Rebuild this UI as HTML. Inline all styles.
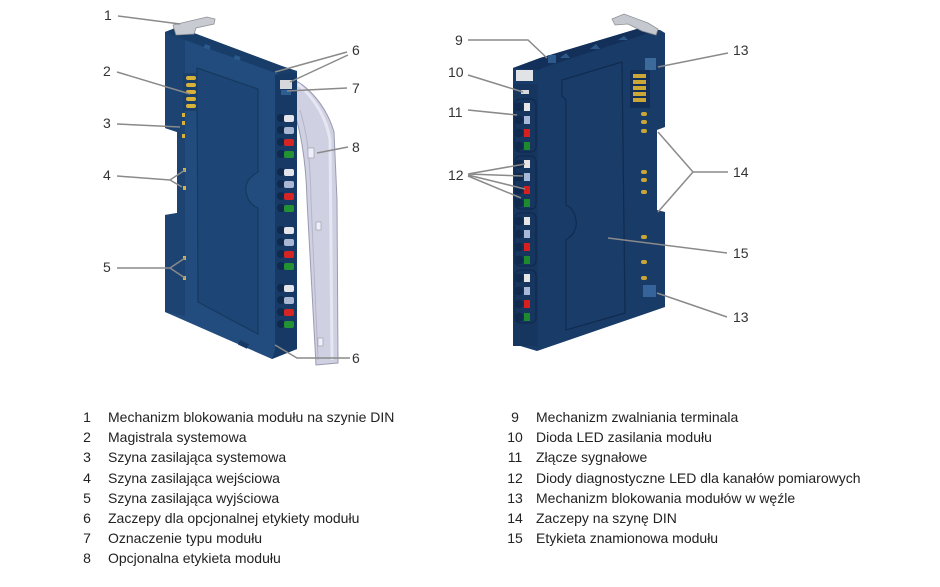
<!DOCTYPE html>
<html><head><meta charset="utf-8"><style>
html,body{margin:0;padding:0;background:#fff}
svg{display:block}
text{font-family:"Liberation Sans",Arial,sans-serif}
</style></head><body>
<svg width="940" height="587" viewBox="0 0 940 587" xmlns="http://www.w3.org/2000/svg">
<defs>
<g id="grpL">
<circle cx="281" cy="0" r="4" fill="#0f2a4c"/><rect x="284" y="-3" width="10" height="7" rx="2" fill="#e3e5ea"/>
<circle cx="281" cy="12" r="4" fill="#0f2a4c"/><rect x="284" y="9" width="10" height="7" rx="2" fill="#a9b7d2"/>
<circle cx="281" cy="24" r="4" fill="#0f2a4c"/><rect x="284" y="21" width="10" height="7" rx="2" fill="#d42424"/>
<circle cx="281" cy="36" r="4" fill="#0f2a4c"/><rect x="284" y="33" width="10" height="7" rx="2" fill="#239232"/>
</g>
<g id="grpR">
<rect x="515" y="-8" width="21" height="53" rx="5" fill="none" stroke="#0f2749" stroke-width="1"/>
<circle cx="519" cy="0" r="4.5" fill="#102a4f"/><rect x="524" y="-4" width="6" height="8" fill="#e6e6e6"/>
<circle cx="519" cy="13" r="4.5" fill="#102a4f"/><rect x="524" y="9" width="6" height="8" fill="#a8b8d8"/>
<circle cx="519" cy="26" r="4.5" fill="#102a4f"/><rect x="524" y="22" width="6" height="8" fill="#d62020"/>
<circle cx="519" cy="39" r="4.5" fill="#102a4f"/><rect x="524" y="35" width="6" height="8" fill="#1e8a2e"/>
</g>
</defs>
<rect width="940" height="587" fill="#fff"/>

<!-- ===== LEFT MODULE ===== -->
<path d="M290,78 C305,84 325,102 334,132 L337,200 L338,363 L316,365 L307,200 C306,160 300,125 292,108 Z" fill="#cfd0e2" stroke="#9a9bb0" stroke-width="1"/>
<path d="M298,84 C312,96 326,115 330,140 L332,360" fill="none" stroke="#e6e7f2" stroke-width="3"/>
<path d="M300,110 C306,130 310,150 311,200 L318,360" fill="none" stroke="#b4b5c8" stroke-width="1"/>
<rect x="308" y="148" width="6" height="10" fill="#eef" stroke="#999" stroke-width="0.6"/>
<rect x="316" y="222" width="5" height="8" fill="#eef" stroke="#999" stroke-width="0.6"/>
<rect x="318" y="338" width="5" height="8" fill="#eef" stroke="#999" stroke-width="0.6"/>

<path d="M165,32 L178,27 L282,67 L297,71 L297,349 L272,359 L165,312 L165,215 L177,213 L177,132 L165,128 Z" fill="#214c7d"/>
<path d="M165,32 L185,38 L185,316 L165,312 L165,215 L177,213 L177,132 L165,128 Z" fill="#1c4372"/>
<path d="M165,32 L178,27 L282,66 L297,71 L284,76 L185,40 Z" fill="#183d69"/>
<rect x="205" y="44" width="6" height="4" fill="#2b5a8c" transform="rotate(20 205 44)"/>
<rect x="235" y="55" width="6" height="4" fill="#2b5a8c" transform="rotate(20 235 55)"/>
<path d="M197,68 L258,89 L258,172 Q244,180 246,192 Q248,204 258,208 L258,334 L198,302 Z" fill="#1d4676" stroke="#16395f" stroke-width="1.2"/>
<path d="M275,75 L297,72 L297,349 L272,359 L275,350 Z" fill="#163a65"/>
<rect x="280" y="80" width="12" height="9" fill="#d6d8dc"/>
<rect x="281" y="90" width="10" height="5" fill="#2e5d92"/>
<rect x="183" y="73" width="15" height="38" fill="#1a3f6b"/>
<g fill="#d9b23a">
<rect x="186" y="76" width="10" height="4" rx="2"/><rect x="186" y="83" width="10" height="4" rx="2"/>
<rect x="186" y="90" width="10" height="4" rx="2"/><rect x="186" y="97" width="10" height="4" rx="2"/>
<rect x="186" y="104" width="10" height="4" rx="2"/>
<rect x="182" y="113" width="3" height="4"/><rect x="182" y="121" width="3" height="4"/><rect x="182" y="134" width="3" height="4"/>
<rect x="183" y="168" width="3" height="4"/><rect x="183" y="186" width="3" height="4"/>
<rect x="183" y="256" width="3" height="4"/><rect x="183" y="276" width="3" height="4"/>
</g>
<use href="#grpL" transform="translate(0,118)"/>
<use href="#grpL" transform="translate(0,172)"/>
<use href="#grpL" transform="translate(0,230)"/>
<use href="#grpL" transform="translate(0,288)"/>
<path d="M173,25 L207,17 L215,19 L214,24 L196,28 L194,34 L176,35 Z" fill="#c8cbd1" stroke="#8d9096" stroke-width="0.8"/>
<rect x="240" y="340" width="10" height="5" fill="#163a65" transform="rotate(25 240 340)"/>

<!-- ===== RIGHT MODULE ===== -->
<path d="M513,68 L540,58 L640,28 L660,30 L665,33 L665,127 L657,130 L657,210 L665,212 L665,307 L537,351 L517,345 L513,340 Z" fill="#193b67"/>
<path d="M513,68 L540,58 L640,28 L655,31 L548,66 L538,70 Z" fill="#13305a"/>
<path d="M560,58 L566,53 L570,58 Z M590,49 L596,44 L600,49 Z M618,40 L624,36 L628,40 Z" fill="#2d5888"/>
<rect x="548" y="55" width="8" height="8" fill="#2e5b8e"/>
<rect x="516" y="70" width="17" height="11" fill="#e2e3e6"/>
<rect x="513" y="84" width="25" height="262" fill="#17365f"/>
<rect x="521" y="90" width="8" height="4" fill="#d5d8dc"/>
<use href="#grpR" transform="translate(0,107)"/>
<use href="#grpR" transform="translate(0,164)"/>
<use href="#grpR" transform="translate(0,221)"/>
<use href="#grpR" transform="translate(0,278)"/>
<path d="M562,80 L622,62 L625,313 L566,330 L566,240 Q578,232 576,220 Q574,208 566,205 L566,100 L562,96 Z" fill="#1a3c69" stroke="#102b50" stroke-width="1.2"/>
<rect x="630" y="70" width="20" height="38" fill="#132f57"/>
<g fill="#c9a635">
<rect x="633" y="74" width="13" height="4"/><rect x="633" y="80" width="13" height="4"/>
<rect x="633" y="86" width="13" height="4"/><rect x="633" y="92" width="13" height="4"/>
<rect x="633" y="98" width="13" height="4"/>
<rect x="641" y="112" width="6" height="4" rx="2"/><rect x="641" y="120" width="6" height="4" rx="2"/>
<rect x="641" y="129" width="6" height="4" rx="2"/><rect x="641" y="170" width="6" height="4" rx="2"/>
<rect x="641" y="178" width="6" height="4" rx="2"/><rect x="641" y="190" width="6" height="4" rx="2"/>
<rect x="641" y="235" width="6" height="4" rx="2"/><rect x="641" y="260" width="6" height="4" rx="2"/>
<rect x="641" y="276" width="6" height="4" rx="2"/>
</g>
<rect x="645" y="58" width="11" height="12" fill="#3c6a9a"/>
<rect x="643" y="285" width="13" height="12" fill="#36649a"/>
<path d="M612,19 L624,14 L648,23 L658,29 L656,35 L642,31 L628,24 L615,25 Z" fill="#c5c8ce" stroke="#8d9096" stroke-width="0.8"/>

<!-- ===== LEADER LINES ===== -->
<g stroke="#8a8a8a" stroke-width="1.5" fill="none">
<path d="M118,16 L180,24"/>
<path d="M117,72 L190,94"/>
<path d="M117,124 L180,127"/>
<path d="M117,176 L170,180 L185,170 M170,180 L182,187"/>
<path d="M117,268 L170,268 L185,258 M170,268 L185,278"/>
<path d="M347,52 L275,72 M348,55 L290,82"/>
<path d="M347,88 L287,91"/>
<path d="M348,147 L317,153"/>
<path d="M350,358 L297,358 L275,345"/>
<path d="M468,40 L528,40 L547,58"/>
<path d="M468,75 L523,92"/>
<path d="M468,110 L517,115"/>
<path d="M468,174 L525,164 M468,174 L523,176 M468,175 L525,189 M468,176 L521,198"/>
<path d="M728,53 L658,67"/>
<path d="M728,172 L693,172 L658,132 M693,172 L658,212"/>
<path d="M727,253 L608,238"/>
<path d="M727,317 L657,293"/>
</g>

<!-- ===== DIAGRAM LABELS ===== -->
<g font-size="14" fill="#333">
<text x="104" y="20">1</text>
<text x="103" y="76">2</text>
<text x="103" y="128">3</text>
<text x="103" y="180">4</text>
<text x="103" y="272">5</text>
<text x="352" y="55">6</text>
<text x="352" y="93">7</text>
<text x="352" y="152">8</text>
<text x="352" y="363">6</text>
<text x="455" y="45">9</text>
<text x="448" y="77">10</text>
<text x="448" y="117">11</text>
<text x="448" y="180">12</text>
<text x="733" y="55">13</text>
<text x="733" y="177">14</text>
<text x="733" y="258">15</text>
<text x="733" y="322">13</text>
</g>

<!-- ===== LEGEND ===== -->
<g font-size="14" fill="#222">
<g text-anchor="middle">
<text x="87" y="422">1</text>
<text x="87" y="442">2</text>
<text x="87" y="462">3</text>
<text x="87" y="483">4</text>
<text x="87" y="503">5</text>
<text x="87" y="523">6</text>
<text x="87" y="543">7</text>
<text x="87" y="563">8</text>
<text x="515" y="422">9</text>
<text x="515" y="442">10</text>
<text x="515" y="462">11</text>
<text x="515" y="483">12</text>
<text x="515" y="503">13</text>
<text x="515" y="523">14</text>
<text x="515" y="543">15</text>
</g>
<text x="108" y="422">Mechanizm blokowania modułu na szynie DIN</text>
<text x="108" y="442">Magistrala systemowa</text>
<text x="108" y="462">Szyna zasilająca systemowa</text>
<text x="108" y="483">Szyna zasilająca wejściowa</text>
<text x="108" y="503">Szyna zasilająca wyjściowa</text>
<text x="108" y="523">Zaczepy dla opcjonalnej etykiety modułu</text>
<text x="108" y="543">Oznaczenie typu modułu</text>
<text x="108" y="563">Opcjonalna etykieta modułu</text>
<text x="536" y="422">Mechanizm zwalniania terminala</text>
<text x="536" y="442">Dioda LED zasilania modułu</text>
<text x="536" y="462">Złącze sygnałowe</text>
<text x="536" y="483">Diody diagnostyczne LED dla kanałów pomiarowych</text>
<text x="536" y="503">Mechanizm blokowania modułów w węźle</text>
<text x="536" y="523">Zaczepy na szynę DIN</text>
<text x="536" y="543">Etykieta znamionowa modułu</text>
</g>
</svg>
</body></html>
